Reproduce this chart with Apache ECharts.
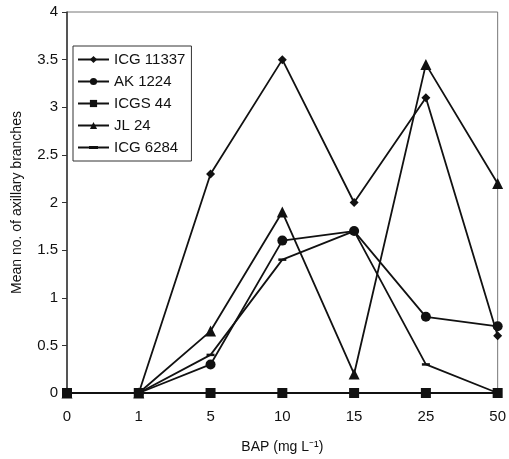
<!DOCTYPE html>
<html>
<head>
<meta charset="utf-8">
<script src="https://cdn.jsdelivr.net/npm/echarts@6/dist/echarts.min.js"></script>
<style>
  html, body { margin: 0; padding: 0; background: #fff; }
  #chart { width: 509px; height: 459px; }
</style>
</head>
<body>
<div id="chart"></div>
<script>
// BAP concentrations (mg/L) as categories
const bapLevels = ['0', '1', '5', '10', '15', '25', '50'];
const yTicks = [0, 0.5, 1, 1.5, 2, 2.5, 3, 3.5, 4];

const icg11337 = [0, 0, 2.3, 3.5, 2.0, 3.1, 0.6];
const ak1224 = [0, 0, 0.3, 1.6, 1.7, 0.8, 0.7];
const icgs44 = [0, 0, 0, 0, 0, 0, 0];
const jl24 = [0, 0, 0.65, 1.9, 0.2, 3.45, 2.2];
const icg6284 = [0, 0, 0.4, 1.4, 1.7, 0.3, 0];

const font = 'Liberation Sans, Arial, sans-serif';
const ink = '#111';

const mkSeries = (name, data, symbol, symbolSize, z) => ({
  name,
  type: 'line',
  data,
  symbol,
  symbolSize,
  showAllSymbol: true,
  z,
  lineStyle: { color: ink, width: 1.8 },
  itemStyle: { color: ink },
  emphasis: { disabled: true },
  animation: false,
});

const chart = echarts.init(document.getElementById('chart'));
chart.setOption({
  backgroundColor: '#fff',
  animation: false,
  grid: {
    left: 67, right: 9, top: 12, bottom: 66,
    show: true, borderColor: '#777', borderWidth: 1,
  },
  legend: {
    orient: 'vertical',
    left: 73, top: 46,
    itemWidth: 31, itemHeight: 9, itemGap: 7,
    padding: [6, 6, 6, 4],
    borderColor: '#333', borderWidth: 1,
    textStyle: { fontFamily: font, fontSize: 15, color: ink },
    data: [
      'ICG 11337', 'AK 1224', 'ICGS 44', 'JL 24',
      { name: 'ICG 6284', icon: 'path://M0,3.6h11v1.8h-11zM11,3h9v3h-9zM20,3.6h11v1.8h-11z' },
    ],
  },
  xAxis: {
    type: 'category',
    data: bapLevels,
    boundaryGap: false,
    name: 'BAP (mg L\u207B\u00B9)',
    nameLocation: 'middle',
    nameGap: 47,
    nameTextStyle: { fontFamily: font, fontSize: 14, color: ink },
    axisLine: { lineStyle: { color: '#333', width: 1.5 } },
    axisTick: { show: false },
    axisLabel: { fontFamily: font, fontSize: 15, color: ink, margin: 16 },
    splitLine: { show: false },
  },
  yAxis: {
    type: 'value',
    min: yTicks[0],
    max: yTicks[yTicks.length - 1],
    interval: 0.5,
    name: 'Mean no. of axillary branches',
    nameLocation: 'middle',
    nameGap: 43,
    nameTextStyle: { fontFamily: font, fontSize: 14, color: ink },
    axisLine: { show: true, lineStyle: { color: '#333', width: 1.5 } },
    axisTick: { show: true, length: 5, lineStyle: { color: '#333' } },
    axisLabel: { fontFamily: font, fontSize: 15, color: ink, margin: 9 },
    splitLine: { show: false },
  },
  series: [
    mkSeries('ICG 11337', icg11337, 'diamond', 9, 2),
    mkSeries('AK 1224', ak1224, 'circle', 10, 2),
    mkSeries('ICGS 44', icgs44, 'rect', 10, 4),
    mkSeries('JL 24', jl24, 'triangle', 11, 2),
    mkSeries('ICG 6284', icg6284, 'rect', [8, 2.5], 2),
  ],
});
</script>
</body>
</html>
